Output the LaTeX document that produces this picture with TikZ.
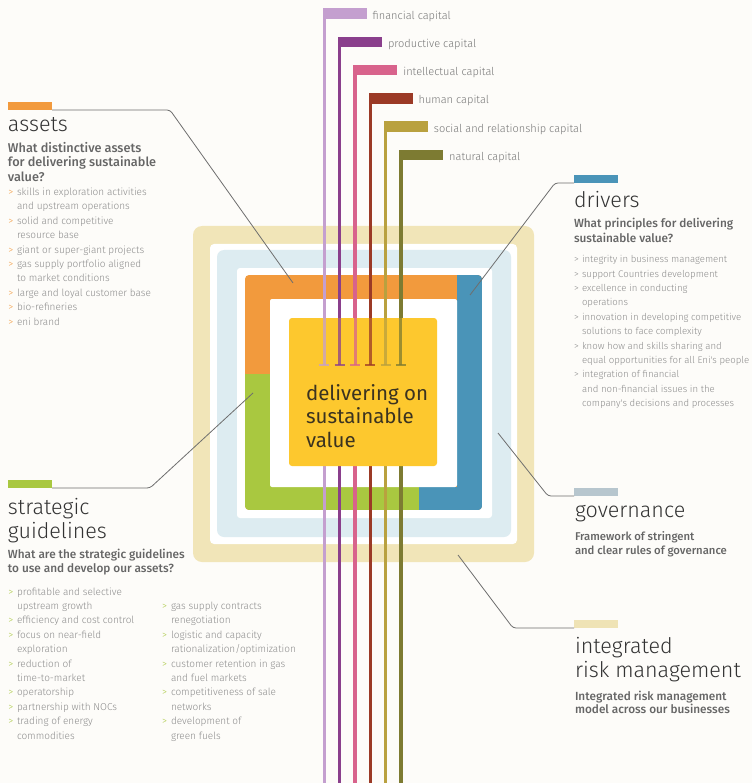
\documentclass[tikz,border=0pt]{standalone}
\usepackage{fontspec}
\setmainfont{Fira Sans}
\newfontfamily\lightfont{Fira Sans Light}
\newfontfamily\medfont{Fira Sans Medium}
\definecolor{bgc}{HTML}{FDFCF9}
\definecolor{beige}{HTML}{F1E5B8}
\definecolor{lblue}{HTML}{DDECF1}
\definecolor{orng}{HTML}{F29A3D}
\definecolor{grn}{HTML}{A9C840}
\definecolor{blu}{HTML}{4A94B8}
\definecolor{coreyel}{HTML}{FDC82E}
\definecolor{govbar}{HTML}{B7C6CE}
\definecolor{riskbar}{HTML}{EFE3B5}
\definecolor{capfin}{HTML}{C49FCF}
\definecolor{capprod}{HTML}{8A3F8C}
\definecolor{capint}{HTML}{D8638C}
\definecolor{caphum}{HTML}{9B3A26}
\definecolor{capsoc}{HTML}{B9A13F}
\definecolor{capnat}{HTML}{7D7B32}
\definecolor{titlegray}{HTML}{333333}
\definecolor{qgray}{HTML}{666666}
\definecolor{listgray}{HTML}{8C8C8C}
\definecolor{capgray}{HTML}{777777}
\definecolor{conngray}{HTML}{6E6E6E}
\definecolor{coretxt}{HTML}{3B3320}
\def\listsz{10}
\tikzset{
  every node/.style={inner sep=0pt, outer sep=0pt},
  barnode/.style={rectangle, minimum width=44pt, minimum height=8pt, anchor=north west},
  capbar/.style={rectangle, minimum width=44pt, minimum height=10.5pt, anchor=north west},
  conn/.style={draw=conngray, line width=0.8pt, rounded corners=3pt},
  titletxt/.style={anchor=base west, text=titlegray, font=\lightfont\fontsize{21.5}{24}\selectfont},
  qtxt/.style={anchor=base west, text=qgray, font=\medfont\fontsize{11.8}{15}\selectfont},
  listtxt/.style={anchor=base west, text=listgray, font=\lightfont\fontsize{\listsz}{12}\selectfont},
  captxt/.style={anchor=base west, text=capgray, font=\lightfont\fontsize{11}{13}\selectfont},
  centertxt/.style={anchor=base west, text=coretxt, font=\fontsize{20.5}{24}\selectfont},
}
\newcommand\mylistblock[6]{%
  \foreach \m/\t [count=\k from 0] in {#5}{%
    \pgfmathsetmacro\yy{#3+14.4*\k}%
    \node[listtxt] (#6\k) at (#2,\yy) {\t};%
    \ifnum\m=1 \node[listtxt, text=#4] (#6c\k) at (#1,\yy) {>};\fi
  }}
\begin{document}
\begin{tikzpicture}[x=1pt,y=-1pt]
\useasboundingbox (0,0) rectangle (752,783);
\fill[bgc] (0,0) rectangle (752,783);

% frames
\fill[beige, rounded corners=9pt] (193,226) rectangle (534,562);
\fill[white, rounded corners=4pt] (210,244) rectangle (517,544);
\fill[lblue, rounded corners=7pt] (217,250) rectangle (511,537);
\fill[white, rounded corners=3pt] (237,268) rectangle (492,518);
\begin{scope}
  \clip[rounded corners=4pt] (245,275) rectangle (482,510);
  \fill[orng] (245,275) rectangle (482,510);
  \fill[grn] (245,374) rectangle (419,510);
  \fill[blu] (457,275) rectangle (482,510);
  \fill[blu] (419,487) rectangle (482,510);
\end{scope}
\fill[white, rounded corners=2pt] (270,299) rectangle (457,487);

% section bars and connectors
\node[barnode, fill=orng] (abar) at (8,102) {};
\node[barnode, fill=blu] (dbar) at (574,175) {};
\node[barnode, fill=grn] (sbar) at (8,480) {};
\node[barnode, fill=govbar] (gbar) at (574,488) {};
\node[barnode, fill=riskbar] (rbar) at (574,620) {};
\coordinate (abend) at (170,110);
\coordinate (aend) at (293,283);
\coordinate (dbend) at (555,183);
\coordinate (dend) at (470,295);
\coordinate (sbend) at (150,488);
\coordinate (send) at (253,393);
\coordinate (gbend) at (548,496);
\coordinate (gend) at (498,433);
\coordinate (rbend) at (513,628);
\coordinate (rend) at (458,555);
\draw[conn] (abar.south east) -- (abend) -- (aend);
\draw[conn] (dbar.south west) -- (dbend) -- (dend);
\draw[conn] (sbar.south east) -- (sbend) -- (send);
\draw[conn] (gbar.south west) -- (gbend) -- (gend);
\draw[conn] (rbar.south west) -- (rbend) -- (rend);

% capitals
\foreach \i/\c/\t in {0/capfin/financial capital, 1/capprod/productive capital, 2/capint/intellectual capital, 3/caphum/human capital, 4/capsoc/social and relationship capital, 5/capnat/natural capital}{
  \pgfmathsetmacro\xl{322.7+15.3*\i}
  \pgfmathsetmacro\yt{8.3+28.3*\i}
  \node[capbar, fill=\c] (cb\i) at (\xl,\yt) {};
  \draw[line width=3.4pt, draw=\c] (\xl+1.7,\yt+2) -- (\xl+1.7,783);
  \node[captxt] (cl\i) at (\xl+50,\yt+10.8) {\t};
}

% core
\node[rectangle, rounded corners=3pt, fill=coreyel, minimum width=148pt, minimum height=148pt, anchor=north west] (core) at (289,318) {};
\foreach \i/\c in {0/capfin, 1/capprod, 2/capint, 3/caphum, 4/capsoc, 5/capnat}{
  \pgfmathsetmacro\xm{324.4+15.3*\i}
  \draw[line width=3pt, draw=\c, opacity=0.75] (\xm,318) -- (\xm,365);
  \draw[line width=1.2pt, draw=\c, opacity=0.75] (\xm-5,365) -- (\xm+5,365);
}
\node[centertxt] (ct1) at (306,400) {delivering on};
\node[centertxt] (ct2) at (306,423.5) {sustainable};
\node[centertxt] (ct3) at (306,447) {value};

% assets
\node[titletxt] (atitle) at (8,132) {assets};
\node[qtxt, font=\medfont\fontsize{12.7}{15}\selectfont] (aq1) at (8,152.5) {What distinctive assets};
\node[qtxt, font=\medfont\fontsize{12.7}{15}\selectfont] (aq2) at (8,167) {for delivering sustainable};
\node[qtxt, font=\medfont\fontsize{12.7}{15}\selectfont] (aq3) at (8,181.5) {value?};
\mylistblock{8.5}{17}{195.5}{orng}{1/skills in exploration activities, 0/and upstream operations, 1/solid and competitive, 0/resource base, 1/giant or super-giant projects, 1/gas supply portfolio aligned, 0/to market conditions, 1/large and loyal customer base, 1/bio-refineries, 1/eni brand}{al}

% drivers
\node[titletxt] (dtitle) at (574,208) {drivers};
\node[qtxt] (dq1) at (574,228) {What principles for delivering};
\node[qtxt] (dq2) at (574,243) {sustainable value?};
\def\listsz{9.6}
\mylistblock{574}{582}{262.7}{listgray}{1/integrity in business management, 1/support Countries development, 1/excellence in conducting, 0/operations, 1/innovation in developing competitive, 0/solutions to face complexity, 1/know how and skills sharing and, 0/equal opportunities for all Eni's people, 1/integration of financial, 0/and non-financial issues in the, 0/company's decisions and processes}{dl}
\def\listsz{10}

% strategic guidelines
\node[titletxt] (stitle1) at (8,514) {strategic};
\node[titletxt] (stitle2) at (8,538) {guidelines};
\node[qtxt] (sq1) at (8,558) {What are the strategic guidelines};
\node[qtxt] (sq2) at (8,572) {to use and develop our assets?};
\mylistblock{8.5}{17}{595}{grn}{1/profitable and selective, 0/upstream growth, 1/efficiency and cost control, 1/focus on near-field, 0/exploration, 1/reduction of, 0/time-to-market, 1/operatorship, 1/partnership with NOCs, 1/trading of energy, 0/commodities}{sl}
\mylistblock{162}{171}{609.4}{grn}{1/gas supply contracts, 0/renegotiation, 1/logistic and capacity, 0/{rationalization/optimization}, 1/customer retention in gas, 0/and fuel markets, 1/competitiveness of sale, 0/networks, 1/development of, 0/green fuels}{sr}

% governance
\node[titletxt] (gtitle) at (575,517) {governance};
\node[qtxt, font=\medfont\fontsize{11.3}{14}\selectfont] (gq1) at (575,540) {Framework of stringent};
\node[qtxt, font=\medfont\fontsize{11.3}{14}\selectfont] (gq2) at (575,554) {and clear rules of governance};

% integrated risk management
\node[titletxt] (rtitle1) at (575,653) {integrated};
\node[titletxt] (rtitle2) at (575,677) {risk management};
\node[qtxt] (rq1) at (575,700) {Integrated risk management};
\node[qtxt] (rq2) at (575,713) {model across our businesses};
\end{tikzpicture}
\end{document}
